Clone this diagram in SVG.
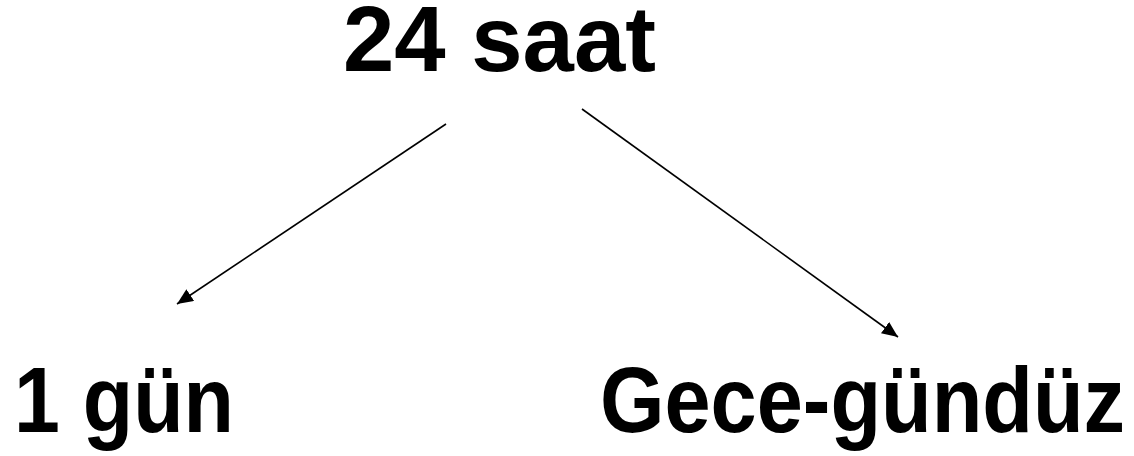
<svg xmlns="http://www.w3.org/2000/svg" width="1134" height="456" viewBox="0 0 1134 456">
<style>
.lbl{font-family:"Liberation Sans","DejaVu Sans",sans-serif;font-weight:bold;font-size:92px;fill:#000}
.edge{stroke:#000;stroke-width:1.6;fill:none;marker-end:url(#arr)}
</style>
<defs>
<marker id="arr" markerUnits="userSpaceOnUse" markerWidth="18" markerHeight="14" refX="16" refY="7" orient="auto">
<path d="M0,0 L16,7 L0,14 Z" fill="#000"/>
</marker>
</defs>
<rect width="1134" height="456" fill="#fff"/>
<g id="edges">
<line class="edge" x1="446" y1="124" x2="177" y2="304"/>
<line class="edge" x1="582" y1="109" x2="898" y2="337"/>
</g>
<g id="node-24saat">
<text class="lbl" x="343" y="71" textLength="313" lengthAdjust="spacingAndGlyphs">24 saat</text>
</g>
<g id="node-1gun">
<text class="lbl" x="14" y="432" textLength="220" lengthAdjust="spacingAndGlyphs">1 gün</text>
</g>
<g id="node-gece">
<text class="lbl" x="600" y="432" textLength="525" lengthAdjust="spacingAndGlyphs">Gece-gündüz</text>
</g>
</svg>
